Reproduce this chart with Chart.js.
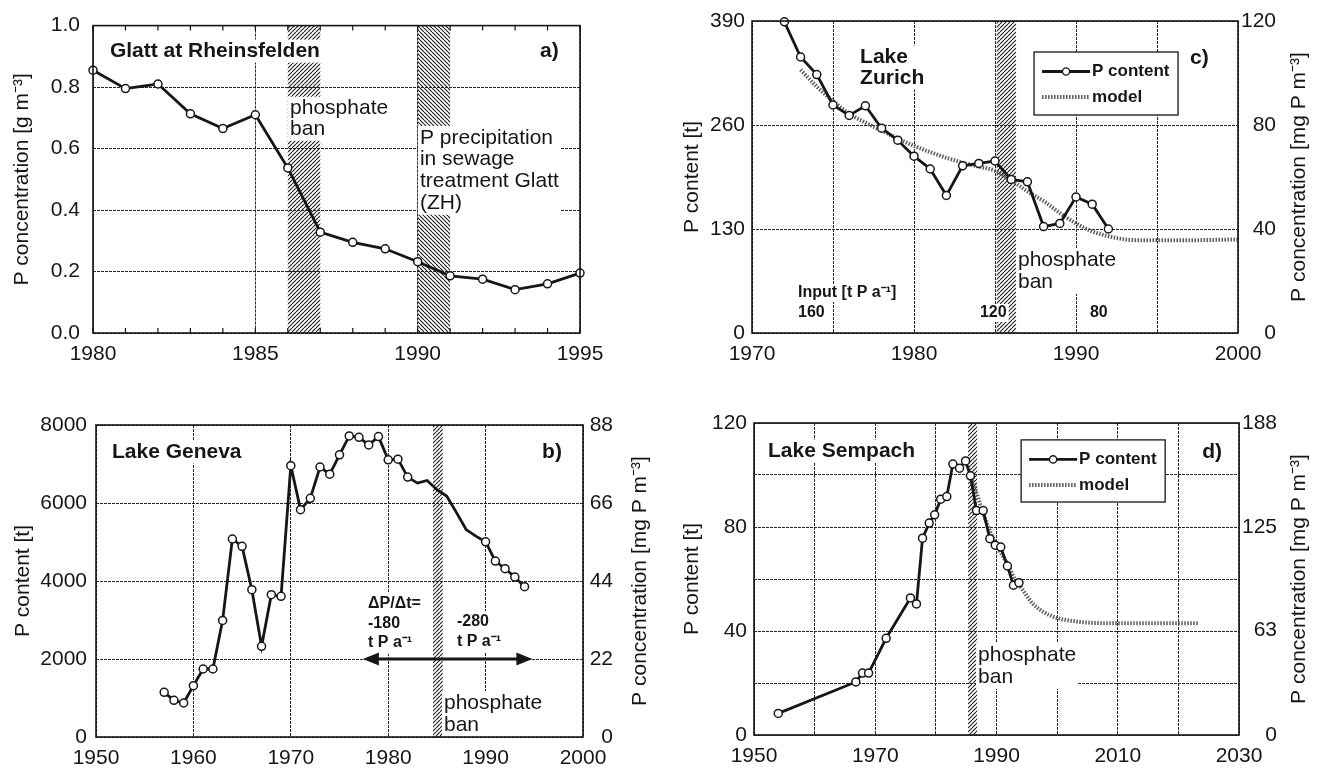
<!DOCTYPE html>
<html>
<head>
<meta charset="utf-8">
<title>Phosphorus in Swiss rivers and lakes</title>
<script src="https://cdn.jsdelivr.net/npm/chart.js@4.4.1/dist/chart.umd.min.js"></script>
<style>
  html, body { margin: 0; background: #fff; }
  #wrap { position: relative; width: 1319px; height: 773px; overflow: hidden; }
  #wrap canvas { position: absolute; }
</style>
</head>
<body>
<div id="wrap">
  <canvas id="chartA" width="660" height="375" style="left:0;top:0"></canvas>
  <canvas id="chartC" width="659" height="375" style="left:660px;top:0"></canvas>
  <canvas id="chartB" width="660" height="393" style="left:0;top:380px"></canvas>
  <canvas id="chartD" width="659" height="393" style="left:660px;top:380px"></canvas>
</div>
<script>
// ---------- DATA ----------
// a) Glatt at Rheinsfelden, P concentration [g m-3]
const glattYears = [1980, 1981, 1982, 1983, 1984, 1985, 1986, 1987, 1988, 1989, 1990, 1991, 1992, 1993, 1994, 1995];
const glattConc  = [0.855, 0.795, 0.81, 0.713, 0.665, 0.71, 0.537, 0.328, 0.295, 0.274, 0.232, 0.186, 0.175, 0.141, 0.16, 0.195];

// b) Lake Geneva, P content [t]
const genevaYears = [1957, 1958, 1959, 1960, 1961, 1962, 1963, 1964, 1965, 1966, 1967, 1968, 1969,
                     1970, 1971, 1972, 1973, 1974, 1975, 1976, 1977, 1978, 1979, 1980, 1981, 1982,
                     1983, 1984, 1985, 1986, 1987, 1988, 1989, 1990, 1991, 1992, 1993, 1994];
const genevaP = [1145, 940, 872, 1316, 1744, 1744, 2990, 5077, 4889, 3778, 2325, 3650, 3606,
                 6957, 5829, 6120, 6923, 6740, 7234, 7719, 7685, 7489, 7702, 7106, 7123, 6664,
                 6511, 6578, 6340, 6180, 5760, 5319, 5150, 5004, 4510, 4315, 4102, 3855];
const genevaNoMarker = [1983, 1984, 1985, 1986, 1987, 1988, 1989];

// c) Lake Zurich, P content [t]
const zurichYears = [1972, 1973, 1974, 1975, 1976, 1977, 1978, 1979, 1980, 1981, 1982,
                     1983, 1984, 1985, 1986, 1987, 1988, 1989, 1990, 1991, 1992];
const zurichP = [389, 345, 323, 285, 272, 284, 256, 241, 221, 205, 172,
                 209, 212, 215, 192, 189, 133, 137, 170, 161, 130];
const zurichModelYears = [1973, 1974, 1975, 1976, 1977, 1978, 1979, 1980, 1981, 1982, 1983, 1984,
                          1985, 1986, 1987, 1988, 1989, 1990, 1991, 1992, 1993, 1994, 1995, 1997, 2000];
const zurichModel = [329, 308, 290, 274, 263, 253, 243, 234, 226, 219, 213, 208,
                     203, 191, 177, 165, 150, 137, 127, 121, 117, 116, 116, 116, 117];

// d) Lake Sempach, P content [t]
const sempachYears = [1954, 1966.8, 1967.9, 1968.9, 1971.8, 1975.8, 1976.8, 1977.8, 1978.9, 1979.8,
                      1980.8, 1981.8, 1982.8, 1983.9, 1984.9, 1985.7, 1986.7, 1987.8, 1988.9, 1989.8,
                      1990.7, 1991.8, 1992.8, 1993.7];
const sempachP = [8.3, 20.4, 23.8, 23.8, 37.2, 52.7, 50.4, 75.7, 81.5, 84.7,
                  90.7, 91.7, 104.2, 102.6, 105.4, 99.7, 86.3, 86.3, 75.5, 73,
                  72.3, 65, 57.6, 58.6];
const sempachModelYears = [1986, 1987, 1988, 1989, 1990, 1991, 1992, 1993, 1994, 1995, 1996, 1998,
                           2000, 2003, 2008, 2015, 2023.4];
const sempachModel = [99, 91, 84, 78, 73, 69, 65, 60, 57, 53.5, 50.5, 47, 45, 43.7, 43, 43, 43];

// right-hand axes: P concentration [mg P m-3]
const genevaConcTicks  = [0, 22, 44, 66, 88];
const zurichConcTicks  = [0, 40, 80, 120];
const sempachConcTicks = [0, 63, 125, 188];

// ---------- STYLE ----------
const FONT = "'Liberation Sans', Arial, Helvetica, sans-serif";
const INK = '#161616';
const GRID = '#262626';
const AXIS_FONT = { family: FONT, size: 21 };
Chart.defaults.font.family = FONT;
Chart.defaults.color = INK;

function pts(xs, ys) {
  return xs.map((x, i) => ({ x, y: ys[i] }));
}

function dataSet(label, xs, ys, extra) {
  return Object.assign({
    label, data: pts(xs, ys), xAxisID: 'x', yAxisID: 'y',
    borderColor: INK, borderWidth: 2.8,
    pointRadius: 4, pointBackgroundColor: '#fff', pointBorderColor: INK, pointBorderWidth: 1.5,
    tension: 0, clip: false
  }, extra || {});
}

function modelSet(xs, ys) {
  return {
    label: 'model', data: pts(xs, ys), xAxisID: 'x', yAxisID: 'y',
    borderColor: '#5c5c5c', borderWidth: 4, borderDash: [1.5, 1.5],
    pointRadius: 0, cubicInterpolationMode: 'monotone', clip: false
  };
}

function xAxis(min, max, step, labelEvery, height) {
  return {
    type: 'linear', position: 'bottom', min, max,
    afterFit: s => { s.height = height; },
    ticks: {
      stepSize: step, autoSkip: false, maxRotation: 0, padding: 9, color: INK, font: AXIS_FONT,
      callback: v => ((v - min) % labelEvery === 0 ? String(v) : '')
    },
    grid: { color: GRID, lineWidth: 1, drawTicks: false },
    border: { display: false, dash: [3, 1] }
  };
}

function yAxis(o) {
  return {
    type: 'linear', position: 'left', min: o.min, max: o.max,
    afterFit: s => { s.width = o.width; },
    ticks: { stepSize: o.step, autoSkip: false, padding: o.tickPad, color: INK, font: AXIS_FONT, callback: o.fmt },
    grid: { color: GRID, lineWidth: 1, drawTicks: false },
    border: { display: false, dash: [3, 1] },
    title: { display: true, text: o.title, color: INK, font: AXIS_FONT, padding: { top: o.titlePad, bottom: 0 } }
  };
}

function yRight(labels, width) {
  return {
    type: 'linear', position: 'right', min: 0, max: labels[labels.length - 1],
    afterFit: s => { s.width = width; },
    afterBuildTicks: s => { s.ticks = labels.map(v => ({ value: v })); },
    ticks: { crossAlign: 'far', padding: 4, color: INK, font: AXIS_FONT, callback: v => String(v) },
    grid: { display: false, drawTicks: false },
    border: { display: false }
  };
}

// ---------- ANNOTATIONS (bands, notes, legend box, arrow) ----------
const DECO = {
  chartA: {
    bands: [[1986, 1987, 1], [1990, 1991, -1]],
    minorX: 1,
    notes: [
      { lines: ['Glatt at Rheinsfelden'], x: 1980.52, y: 0.917, bold: true, size: 21 },
      { lines: ['a)'], x: 1993.77, y: 0.917, bold: true, size: 21 },
      { lines: ['phosphate', 'ban'], x: 1986.07, y: 0.731, size: 21, lh: 21 },
      { lines: ['P precipitation', 'in sewage', 'treatment Glatt', '(ZH)'], x: 1990.07, y: 0.635, size: 21, lh: 21.7 }
    ]
  },
  chartB: {
    bands: [[1984.6, 1985.6, 1]],
    rightTitle: 'P concentration [mg P m⁻³]',
    arrow: { from: 1977.4, to: 1994.8, y: 2000 },
    notes: [
      { lines: ['Lake Geneva'], x: 1951.64, y: 7308, bold: true, size: 21 },
      { lines: ['b)'], x: 1995.8, y: 7308, bold: true, size: 21 },
      { lines: ['ΔP/Δt=', '-180', 't P a⁻¹'], x: 1977.93, y: 3410, bold: true, size: 16, lh: 19.5 },
      { lines: ['-280', 't P a⁻¹'], x: 1987.06, y: 2949, bold: true, size: 16, lh: 19.5 },
      { lines: ['phosphate', 'ban'], x: 1985.73, y: 872, size: 21, lh: 22 }
    ]
  },
  chartC: {
    bands: [[1985.1, 1986.3, 1]],
    rightTitle: 'P concentration [mg P m⁻³]',
    legendBox: { x0: 1987.41, x1: 1996.3, y0: 351.25, y1: 272.5 },
    notes: [
      { lines: ['Lake', 'Zurich'], x: 1976.67, y: 345, bold: true, size: 21, lh: 21 },
      { lines: ['c)'], x: 1997.04, y: 343.75, bold: true, size: 21 },
      { lines: ['phosphate', 'ban'], x: 1986.42, y: 91.25, size: 21, lh: 22 },
      { lines: ['Input [t P a⁻¹]'], x: 1972.84, y: 50, bold: true, size: 16 },
      { lines: ['160'], x: 1972.84, y: 25, bold: true, size: 16 },
      { lines: ['120'], x: 1984.07, y: 25, bold: true, size: 16 },
      { lines: ['80'], x: 1990.86, y: 25, bold: true, size: 16 }
    ]
  },
  chartD: {
    bands: [[1985.3, 1986.8, 1]],
    rightTitle: 'P concentration [mg P m⁻³]',
    legendBox: { x0: 1994.06, x1: 2017.82, y0: 113.5, y1: 89.6 },
    notes: [
      { lines: ['Lake Sempach'], x: 1952.31, y: 109.2, bold: true, size: 21 },
      { lines: ['d)'], x: 2023.93, y: 108.8, bold: true, size: 21 },
      { lines: ['phosphate', 'ban'], x: 1986.96, y: 30.8, size: 21, lh: 22 }
    ]
  }
};

function hatchPattern(ctx, dir) {
  const c = document.createElement('canvas');
  c.width = 4; c.height = 4;
  const g = c.getContext('2d');
  g.strokeStyle = '#1e1e1e';
  g.lineWidth = 1.1;
  g.beginPath();
  for (let k = -4; k <= 8; k += 4) {
    if (dir > 0) { g.moveTo(k, 4); g.lineTo(k + 4, 0); }
    else { g.moveTo(k, 0); g.lineTo(k + 4, 4); }
  }
  g.stroke();
  return ctx.createPattern(c, 'repeat');
}

function drawNote(ctx, xs, ys, n) {
  const x = xs.getPixelForValue(n.x), y = ys.getPixelForValue(n.y);
  const lh = n.lh || n.size;
  ctx.font = (n.bold ? 'bold ' : '') + n.size + 'px ' + FONT;
  const w = Math.max(...n.lines.map(s => ctx.measureText(s).width));
  ctx.fillStyle = '#fff';
  ctx.fillRect(x - 2, y - lh / 2 - 1, w + 4, lh * n.lines.length + 2);
  ctx.fillStyle = INK;
  ctx.textAlign = 'left';
  ctx.textBaseline = 'middle';
  n.lines.forEach((s, i) => ctx.fillText(s, x, y + i * lh));
}

function drawArrow(ctx, xs, ys, a) {
  const x0 = xs.getPixelForValue(a.from), x1 = xs.getPixelForValue(a.to), y = ys.getPixelForValue(a.y);
  ctx.strokeStyle = INK; ctx.fillStyle = INK; ctx.lineWidth = 3;
  ctx.beginPath(); ctx.moveTo(x0 + 8, y); ctx.lineTo(x1 - 8, y); ctx.stroke();
  [[x0, 1], [x1, -1]].forEach(([x, d]) => {
    ctx.beginPath();
    ctx.moveTo(x, y);
    ctx.lineTo(x + d * 16, y - 6.5);
    ctx.lineTo(x + d * 16, y + 6.5);
    ctx.closePath();
    ctx.fill();
  });
}

function drawLegend(ctx, chart, L) {
  const xs = chart.scales.x, ys = chart.scales.y;
  const l = xs.getPixelForValue(L.x0), r = xs.getPixelForValue(L.x1);
  const t = ys.getPixelForValue(L.y0), b = ys.getPixelForValue(L.y1);
  ctx.fillStyle = '#fff';
  ctx.fillRect(l, t, r - l, b - t);
  ctx.strokeStyle = INK; ctx.lineWidth = 1.3;
  ctx.strokeRect(l, t, r - l, b - t);
  ctx.font = 'bold 17px ' + FONT;
  ctx.textBaseline = 'middle'; ctx.textAlign = 'left';
  chart.data.datasets.forEach((ds, i) => {
    const y = t + 19.5 + i * 25.5;
    ctx.save();
    ctx.strokeStyle = ds.borderColor; ctx.lineWidth = ds.borderWidth;
    ctx.setLineDash(ds.borderDash || []);
    ctx.beginPath(); ctx.moveTo(l + 8, y); ctx.lineTo(l + 56, y); ctx.stroke();
    ctx.restore();
    if (ds.pointRadius) {
      ctx.beginPath(); ctx.arc(l + 32, y, 3.6, 0, Math.PI * 2);
      ctx.fillStyle = '#fff'; ctx.fill();
      ctx.lineWidth = 1.4; ctx.strokeStyle = INK; ctx.stroke();
    }
    ctx.fillStyle = INK;
    ctx.fillText(ds.label, l + 58, y);
  });
}

const decorations = {
  id: 'decorations',
  beforeDatasetsDraw(chart) {
    const d = DECO[chart.canvas.id];
    if (!d) return;
    const { ctx, chartArea: a, scales } = chart;
    const xs = scales.x, ys = scales.y;
    ctx.save();
    (d.bands || []).forEach(b => {
      const x0 = xs.getPixelForValue(b[0]), x1 = xs.getPixelForValue(b[1]);
      ctx.fillStyle = hatchPattern(ctx, b[2]);
      ctx.fillRect(x0, a.top, x1 - x0, a.bottom - a.top);
    });
    (d.notes || []).forEach(n => drawNote(ctx, xs, ys, n));
    if (d.arrow) drawArrow(ctx, xs, ys, d.arrow);
    if (d.legendBox) drawLegend(ctx, chart, d.legendBox);
    ctx.restore();
  },
  afterDraw(chart) {
    const d = DECO[chart.canvas.id];
    if (!d) return;
    const { ctx, chartArea: a, scales } = chart;
    ctx.save();
    ctx.strokeStyle = INK; ctx.lineWidth = 1.6;
    ctx.strokeRect(a.left, a.top, a.right - a.left, a.bottom - a.top);
    if (d.minorX) {
      const xs = scales.x;
      ctx.lineWidth = 1.2;
      ctx.beginPath();
      for (let v = xs.min; v <= xs.max; v += d.minorX) {
        const p = xs.getPixelForValue(v);
        ctx.moveTo(p, a.bottom); ctx.lineTo(p, a.bottom - 5);
        ctx.moveTo(p, a.top); ctx.lineTo(p, a.top + 5);
      }
      ctx.stroke();
    }
    if (d.rightTitle) {
      ctx.translate(chart.width - 20, (a.top + a.bottom) / 2);
      ctx.rotate(-Math.PI / 2);
      ctx.font = '21px ' + FONT;
      ctx.fillStyle = INK;
      ctx.textAlign = 'center'; ctx.textBaseline = 'middle';
      ctx.fillText(d.rightTitle, 0, 0);
    }
    ctx.restore();
  }
};
Chart.register(decorations);

const baseOptions = (padding) => ({
  responsive: false,
  animation: false,
  layout: { padding },
  plugins: { legend: { display: false }, tooltip: { enabled: false } }
});

// ---------- CHARTS ----------
new Chart(document.getElementById('chartA'), {
  type: 'line',
  data: { datasets: [dataSet('P concentration', glattYears, glattConc)] },
  options: Object.assign(baseOptions({ top: 21, right: 80, left: 0, bottom: 0 }), {
    scales: {
      x: xAxis(1980, 1995, 5, 5, 42),
      y: yAxis({ min: 0, max: 1, step: 0.2, width: 93, tickPad: 13, titlePad: 9.5,
                 title: 'P concentration [g m⁻³]', fmt: v => v.toFixed(1) })
    }
  })
});

new Chart(document.getElementById('chartB'), {
  type: 'line',
  data: {
    datasets: [dataSet('P content', genevaYears, genevaP, {
      pointRadius: c => (genevaNoMarker.includes(genevaYears[c.dataIndex]) ? 0 : 4)
    })]
  },
  options: Object.assign(baseOptions({ top: 45, right: 47, left: 0, bottom: 0 }), {
    scales: {
      x: xAxis(1950, 2000, 10, 10, 36),
      y: yAxis({ min: 0, max: 8000, step: 2000, width: 96, tickPad: 9, titlePad: 10.4,
                 title: 'P content [t]', fmt: v => String(v) }),
      y2: yRight(genevaConcTicks, 30)
    }
  })
});

new Chart(document.getElementById('chartC'), {
  type: 'line',
  data: {
    datasets: [
      dataSet('P content', zurichYears, zurichP),
      modelSet(zurichModelYears, zurichModel)
    ]
  },
  options: Object.assign(baseOptions({ top: 21, right: 43, left: 0, bottom: 0 }), {
    scales: {
      x: xAxis(1970, 2000, 5, 10, 42),
      y: yAxis({ min: 0, max: 390, step: 130, width: 92, tickPad: 7, titlePad: 19.4,
                 title: 'P content [t]', fmt: v => String(v) }),
      y2: yRight(zurichConcTicks, 38)
    }
  })
});

new Chart(document.getElementById('chartD'), {
  type: 'line',
  data: {
    datasets: [
      dataSet('P content', sempachYears, sempachP),
      modelSet(sempachModelYears, sempachModel)
    ]
  },
  options: Object.assign(baseOptions({ top: 43, right: 42, left: 0, bottom: 0 }), {
    scales: {
      x: xAxis(1950, 2030, 10, 20, 38),
      y: yAxis({ min: 0, max: 120, step: 20, width: 94, tickPad: 7, titlePad: 19.4,
                 title: 'P content [t]', fmt: v => (v % 40 === 0 ? String(v) : '') }),
      y2: yRight(sempachConcTicks, 38)
    }
  })
});
</script>
</body>
</html>
